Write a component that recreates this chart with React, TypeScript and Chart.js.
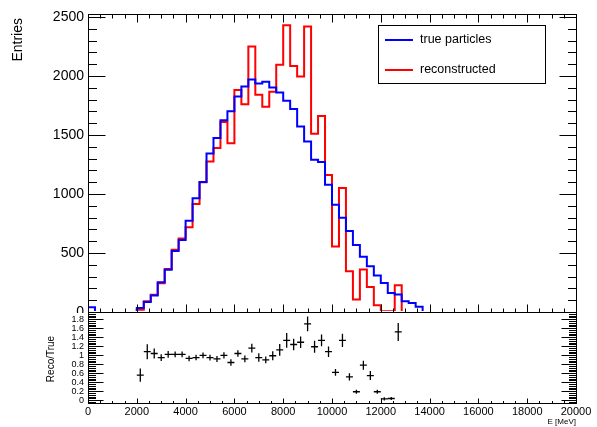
import React, { useEffect, useRef } from 'react';
import { Chart, registerables } from 'chart.js';

Chart.register(...registerables);

const FONT = "'Liberation Sans', Arial, Helvetica, sans-serif";

// ---------------- data ----------------
const E_MIN = 0;
const E_MAX = 20000;
const N_BINS = 70;

const seriesLabels = ['true particles', 'reconstructed'];
const seriesColors = ['#0000ff', '#ff0000'];

// entries per bin (70 bins, 0 - 20000 MeV)
const trueParticles = [
  40, 0, 0, 0, 0, 0, 0,
  34, 84, 140, 253, 357, 517, 610, 773, 964, 1101,
  1343, 1475, 1624, 1700, 1827, 1911, 1970, 1936, 1950, 1902,
  1860, 1790, 1720, 1571, 1444, 1290, 1270, 1079, 908, 798,
  686, 567, 468, 388, 310, 246, 162, 148, 91, 77,
  44,
  0, 0, 0, 0, 0, 0, 0, 0, 0, 0, 0, 0, 0, 0, 0, 0, 0, 0, 0, 0, 0, 0,
];

const reconstructed = [
  0, 0, 0, 0, 0, 0, 0,
  19, 92, 146, 243, 364, 527, 622, 719, 916, 1100,
  1276, 1390, 1610, 1430, 1880, 1760, 2250, 1840, 1740, 1866,
  2095, 2430, 2085, 1995, 2420, 1510, 1660, 1160, 555, 1050,
  345, 105, 360, 212, 58, 7, 6, 226,
  0, 0, 0, 0, 0, 0, 0, 0, 0, 0, 0, 0, 0, 0, 0, 0, 0, 0, 0, 0, 0, 0, 0, 0, 0,
];

// Reco/True ratio for bins 7 .. 44
const RATIO_FIRST_BIN = 7;
const ratioRecoTrue = [
  0.56, 1.08, 1.04, 0.95, 1.02, 1.02, 1.02, 0.93, 0.95, 1.0,
  0.95, 0.92, 1.0, 0.84, 1.04, 0.92, 1.16, 0.95, 0.9, 0.99,
  1.12, 1.33, 1.24, 1.29, 1.7, 1.19, 1.33, 1.08, 0.62, 1.33,
  0.52, 0.19, 0.78, 0.55, 0.19, 0.03, 0.04, 1.52,
];
const ratioError = [
  0.148, 0.167, 0.11, 0.074, 0.074, 0.063, 0.063, 0.06, 0.06, 0.063,
  0.063, 0.067, 0.07, 0.07, 0.074, 0.074, 0.096, 0.093, 0.074, 0.1,
  0.13, 0.163, 0.126, 0.13, 0.163, 0.133, 0.13, 0.118, 0.074, 0.148,
  0.08, 0.044, 0.1, 0.1, 0.044, 0.035, 0.035, 0.2,
];

const entriesAxis = { min: 0, max: 2525, step: 500, minor: 100 };
const ratioAxis = { min: -0.06, max: 1.962, step: 0.2, minor: 0.04 };
const energyAxis = { step: 2000, minor: 500 };

// ---------------- helpers ----------------
const binWidth = (E_MAX - E_MIN) / N_BINS;

function histPoints(vals: number[]) {
  const pts = vals.map((v, i) => ({ x: E_MIN + i * binWidth, y: v }));
  pts.push({ x: E_MAX, y: vals[vals.length - 1] });
  return pts;
}

const ratioPoints = ratioRecoTrue.map((r, i) => ({
  x: E_MIN + (RATIO_FIRST_BIN + i + 0.5) * binWidth,
  y: r,
  ex: binWidth / 2,
  ey: ratioError[i],
}));

function tickList(min: number, max: number, step: number) {
  const out: { value: number }[] = [];
  const lo = Math.ceil(min / step - 1e-6);
  const hi = Math.floor(max / step + 1e-6);
  for (let i = lo; i <= hi; i++) out.push({ value: Math.round(i * step * 1e6) / 1e6 });
  return out;
}

function drawFrame(chart: any, o: any) {
  const { ctx, chartArea: a } = chart;
  const xs = chart.scales.x;
  const ys = chart.scales.y;
  const L = a.left + 0.5, R = a.right + 0.5, T = a.top + 0.5, B = a.bottom + 0.5;
  const each = (scale: any, minor: number, perMajor: number, fn: (p: number, major: boolean) => void) => {
    const lo = Math.ceil(scale.min / minor - 1e-6);
    const hi = Math.floor(scale.max / minor + 1e-6);
    for (let i = lo; i <= hi; i++) {
      const major = ((i % perMajor) + perMajor) % perMajor === 0;
      fn(Math.round(scale.getPixelForValue(i * minor)) + 0.5, major);
    }
  };
  ctx.save();
  ctx.strokeStyle = '#000';
  ctx.lineWidth = 1;
  ctx.beginPath();
  each(xs, o.xMinor, o.xPerMajor, (p, major) => {
    const len = major ? o.xMajLen : o.xMinLen;
    ctx.moveTo(p, B);
    ctx.lineTo(p, B - len);
    if (o.xTop) {
      ctx.moveTo(p, T);
      ctx.lineTo(p, T + len);
    }
  });
  each(ys, o.yMinor, o.yPerMajor, (p, major) => {
    const len = major ? o.yMajLen : o.yMinLen;
    ctx.moveTo(L, p);
    ctx.lineTo(L + len, p);
    ctx.moveTo(R, p);
    ctx.lineTo(R - len, p);
  });
  ctx.stroke();
  ctx.strokeRect(L, T, R - L, B - T);
  ctx.restore();
}

const upperPlugin = {
  id: 'upperDecor',
  afterDraw(chart: any) {
    drawFrame(chart, {
      xMinor: energyAxis.minor, xPerMajor: energyAxis.step / energyAxis.minor, xMajLen: 8, xMinLen: 4, xTop: true,
      yMinor: entriesAxis.minor, yPerMajor: entriesAxis.step / entriesAxis.minor, yMajLen: 17, yMinLen: 8.5,
    });
    const { ctx } = chart;
    // legend
    const bx = 378, by = 25, bw = 167, bh = 58;
    ctx.save();
    ctx.fillStyle = '#fff';
    ctx.fillRect(bx, by, bw, bh);
    ctx.strokeStyle = '#000';
    ctx.lineWidth = 1;
    ctx.strokeRect(bx + 0.5, by + 0.5, bw, bh);
    chart.data.datasets.forEach((ds: any, i: number) => {
      const y = by + 15 + i * 30;
      ctx.strokeStyle = ds.borderColor;
      ctx.lineWidth = 2;
      ctx.beginPath();
      ctx.moveTo(bx + 7, y);
      ctx.lineTo(bx + 35, y);
      ctx.stroke();
      ctx.fillStyle = '#000';
      ctx.font = `12.5px ${FONT}`;
      ctx.textBaseline = 'middle';
      ctx.textAlign = 'left';
      ctx.fillText(ds.label, bx + 42, y);
    });
    // y title
    ctx.translate(18, 18);
    ctx.rotate(-Math.PI / 2);
    ctx.font = `14px ${FONT}`;
    ctx.textAlign = 'right';
    ctx.textBaseline = 'middle';
    ctx.fillStyle = '#000';
    ctx.fillText('Entries', 0, 0);
    ctx.restore();
  },
};

const lowerPlugin = {
  id: 'lowerDecor',
  afterDatasetsDraw(chart: any) {
    const { ctx } = chart;
    const xs = chart.scales.x;
    const ys = chart.scales.y;
    ctx.save();
    ctx.strokeStyle = '#000';
    ctx.lineWidth = 1.3;
    ctx.beginPath();
    chart.data.datasets[0].data.forEach((p: any) => {
      const x = xs.getPixelForValue(p.x);
      const y = ys.getPixelForValue(p.y);
      ctx.moveTo(xs.getPixelForValue(p.x - p.ex), y);
      ctx.lineTo(xs.getPixelForValue(p.x + p.ex), y);
      ctx.moveTo(x, ys.getPixelForValue(p.y - p.ey));
      ctx.lineTo(x, ys.getPixelForValue(p.y + p.ey));
    });
    ctx.stroke();
    ctx.restore();
  },
  afterDraw(chart: any) {
    drawFrame(chart, {
      xMinor: energyAxis.minor, xPerMajor: energyAxis.step / energyAxis.minor, xMajLen: 5, xMinLen: 2.5, xTop: false,
      yMinor: ratioAxis.minor, yPerMajor: Math.round(ratioAxis.step / ratioAxis.minor), yMajLen: 15, yMinLen: 7.5,
    });
    const { ctx } = chart;
    ctx.save();
    ctx.fillStyle = '#000';
    ctx.font = `8px ${FONT}`;
    ctx.textAlign = 'right';
    ctx.textBaseline = 'middle';
    ctx.fillText('E [MeV]', 576, 110);
    ctx.translate(51, 47);
    ctx.rotate(-Math.PI / 2);
    ctx.font = `10px ${FONT}`;
    ctx.textAlign = 'center';
    ctx.fillText('Reco/True', 0, 0);
    ctx.restore();
  },
};

export default function App() {
  const topRef = useRef<HTMLCanvasElement>(null);
  const botRef = useRef<HTMLCanvasElement>(null);

  useEffect(() => {
    const common = {
      responsive: false,
      animation: false as const,
      devicePixelRatio: 1,
      events: [] as any[],
    };
    const top = new Chart(topRef.current as HTMLCanvasElement, {
      type: 'line',
      data: {
        datasets: [trueParticles, reconstructed].map((vals, i) => ({
          label: seriesLabels[i],
          data: histPoints(vals),
          borderColor: seriesColors[i],
          backgroundColor: seriesColors[i],
          borderWidth: 2,
          stepped: 'before' as const,
          pointRadius: 0,
          fill: false,
          clip: { left: 0, top: 0, right: 0, bottom: -1 } as any,
        })),
      },
      options: {
        ...common,
        layout: { padding: { top: 14, right: 21, bottom: 0, left: 0 } },
        plugins: { legend: { display: false }, tooltip: { enabled: false } },
        scales: {
          x: {
            type: 'linear', min: E_MIN, max: E_MAX,
            ticks: { display: false },
            grid: { display: false, drawTicks: false },
            border: { display: false },
            afterFit: (s: any) => { s.height = 1; s.paddingLeft = 0; s.paddingRight = 0; },
          },
          y: {
            type: 'linear', min: entriesAxis.min, max: entriesAxis.max,
            ticks: {
              autoSkip: false, padding: 4,
              color: '#000', font: { family: FONT, size: 14 },
              callback: (v: any) => String(v),
            },
            afterBuildTicks: (s: any) => { s.ticks = tickList(entriesAxis.min, entriesAxis.max, entriesAxis.step); },
            grid: { display: false, drawTicks: false },
            border: { display: false },
            afterFit: (s: any) => { s.width = 88; s.paddingTop = 0; s.paddingBottom = 0; },
          },
        },
      } as any,
      plugins: [upperPlugin],
    });

    const bot = new Chart(botRef.current as HTMLCanvasElement, {
      type: 'scatter',
      data: {
        datasets: [{ label: 'Reco/True', data: ratioPoints as any, pointRadius: 0, showLine: false }],
      },
      options: {
        ...common,
        layout: { padding: { top: 0, right: 21, bottom: 0, left: 0 } },
        plugins: { legend: { display: false }, tooltip: { enabled: false } },
        scales: {
          x: {
            type: 'linear', min: E_MIN, max: E_MAX,
            ticks: {
              autoSkip: false, maxRotation: 0, padding: 2,
              color: '#000', font: { family: FONT, size: 11 },
              callback: (v: any) => String(v),
            },
            afterBuildTicks: (s: any) => { s.ticks = tickList(E_MIN, E_MAX, energyAxis.step); },
            grid: { display: false, drawTicks: false },
            border: { display: false },
            afterFit: (s: any) => { s.height = 24; s.paddingLeft = 0; s.paddingRight = 0; },
          },
          y: {
            type: 'linear', min: ratioAxis.min, max: ratioAxis.max,
            ticks: {
              autoSkip: false, padding: 4,
              color: '#000', font: { family: FONT, size: 9 },
              callback: (v: any) => String(Math.round(v * 10) / 10),
            },
            afterBuildTicks: (s: any) => { s.ticks = tickList(ratioAxis.min, ratioAxis.max, ratioAxis.step).filter((t) => t.value <= 1.8 + 1e-6); },
            grid: { display: false, drawTicks: false },
            border: { display: false },
            afterFit: (s: any) => { s.width = 88; s.paddingTop = 0; s.paddingBottom = 0; },
          },
        },
      } as any,
      plugins: [lowerPlugin],
    });

    return () => {
      top.destroy();
      bot.destroy();
    };
  }, []);

  return (
    <div style={{ position: 'fixed', left: 0, top: 0, width: 597, height: 427, background: '#fff' }}>
      <canvas ref={topRef} width={597} height={313} style={{ position: 'absolute', left: 0, top: 0 }} />
      <canvas ref={botRef} width={597} height={115} style={{ position: 'absolute', left: 0, top: 312 }} />
    </div>
  );
}
